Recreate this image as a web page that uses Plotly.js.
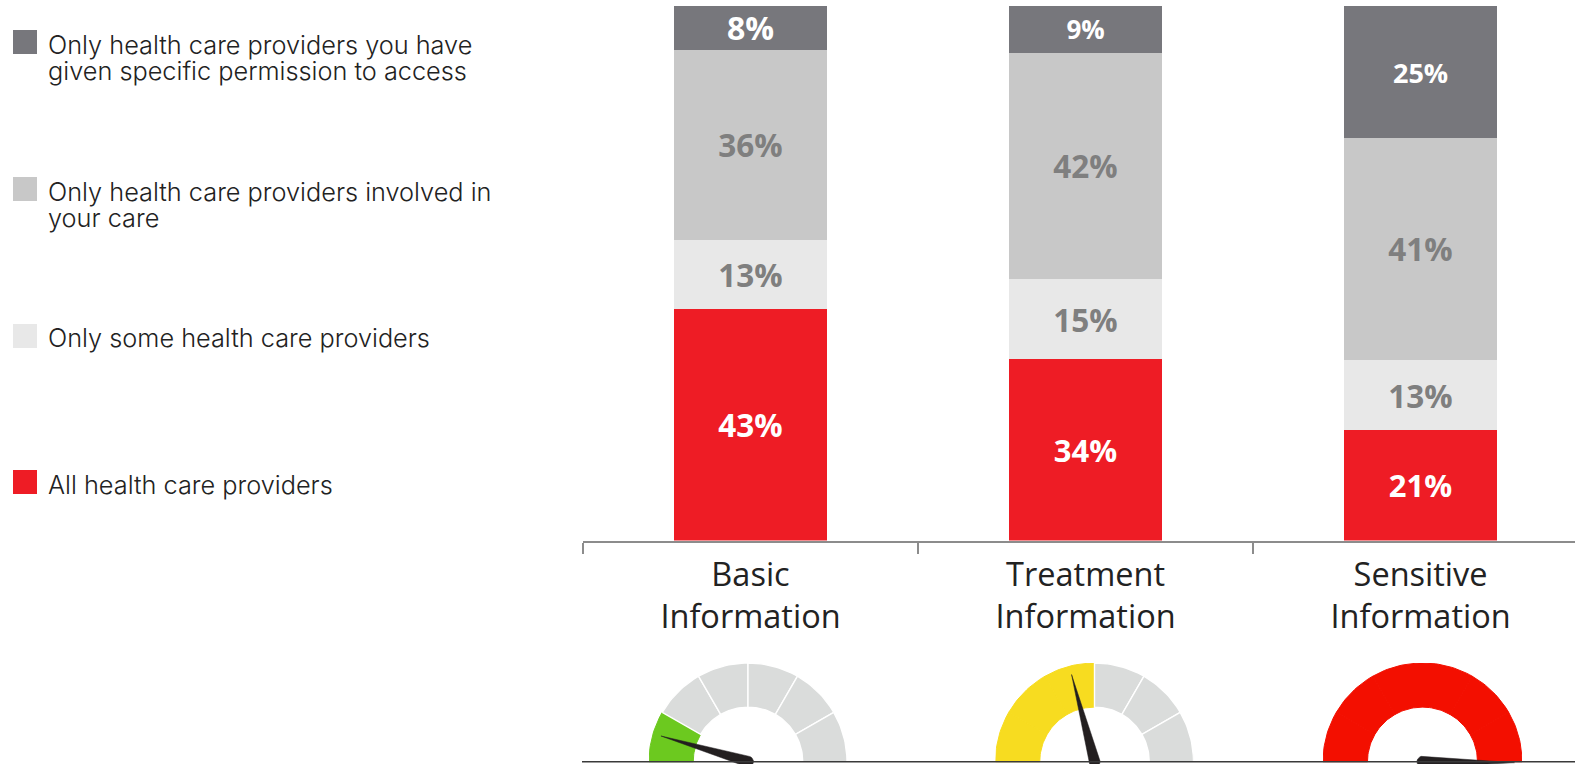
<!DOCTYPE html>
<html><head><meta charset="utf-8">
<script src="https://cdn.plot.ly/plotly-3.0.1.min.js"></script>
<style>html,body{margin:0;padding:0;background:#fff;overflow:hidden}</style>
</head><body><div id="chart" style="width:1575px;height:764px"></div>
<script>
// ---- data ----
const categories = ["Basic<br>Information", "Treatment<br>Information", "Sensitive<br>Information"];
const allProviders = [43.4, 33.9, 20.6];
const someProviders = [12.8, 15.0, 13.2];
const involvedProviders = [35.6, 42.4, 41.49];
const permissionProviders = [8.2, 8.7, 24.71];
const legendAll = ["All health care providers"];
const legendSome = ["Only some health care providers"];
const legendInvolved = ["Only health care providers involved in", "your care"];
const legendPermission = ["Only health care providers you have", "given specific permission to access"];
const gaugeFilledSegments = [1, 3, 6];
const needleDegrees = [16.5, 75.3, 180.6];
const needleLengths = [0.917, 0.913, 0.925];

// ---- styles / layout constants ----
const W = 1575, H = 764;
const cDark = "#77777c", cMid = "#c8c8c8", cLight = "#e8e8e8", cRed = "#ee1c25";
const labelGrey = "#7f7f7f";
const labelFont = "Open Sans";
const gaugeColors = ["#6cc91f", "#f7dc20", "#f30f00"];
const gaugeGrey = "#dadcdb";
const gaugeBoxes = [{cx:748, rx:99}, {cx:1094.5, rx:99}, {cx:1422.5, rx:99.5}];
const gaugeTop = 663, gaugeBase = 761.7, segCount = 6, innerRatio = 0.553;
const px = x => x / W, py = y => 1 - y / H;

function barTrace(name, vals, color, txtColor, sizes) {
  return {type:"bar", name, x:categories, y:vals, width:0.457,
    marker:{color, line:{width:0}},
    text:vals.map(v => Math.round(v) + "%"), textposition:"inside", insidetextanchor:"middle",
    constraintext:"none", textangle:0,
    textfont:{family:labelFont, size:sizes, color:txtColor, weight:700},
    hoverinfo:"skip", showlegend:false};
}
const traces = [
  barTrace(legendAll[0], allProviders, cRed, "#ffffff", [31.5,31,31]),
  barTrace(legendSome[0], someProviders, cLight, labelGrey, [31.5,31.5,31.5]),
  barTrace(legendInvolved.join(" "), involvedProviders, cMid, labelGrey, [31.5,31.5,31.5]),
  barTrace(legendPermission.join(" "), permissionProviders, cDark, "#ffffff", [32,26,27])
];

function polar(deg, r) { const a = deg * Math.PI / 180; return [-Math.cos(a) * r, Math.sin(a) * r]; }
const layoutAxes = {};
gaugeBoxes.forEach((g, i) => {
  const n = i + 2, xa = "x" + n, ya = "y" + n;
  layoutAxes["xaxis" + n] = {domain:[px(g.cx - g.rx), px(g.cx + g.rx)], range:[-1, 1], visible:false, fixedrange:true, anchor:ya};
  layoutAxes["yaxis" + n] = {domain:[0, py(gaugeTop)], range:[-(H - gaugeBase) / (gaugeBase - gaugeTop), 1], visible:false, fixedrange:true, anchor:xa};
  for (let s = 0; s < segCount; s++) {
    const a0 = s * 180 / segCount, a1 = (s + 1) * 180 / segCount, xs = [], ys = [];
    for (let k = 0; k <= 16; k++) { const p = polar(a0 + (a1 - a0) * k / 16, 1); xs.push(p[0]); ys.push(p[1]); }
    for (let k = 16; k >= 0; k--) { const p = polar(a0 + (a1 - a0) * k / 16, innerRatio); xs.push(p[0]); ys.push(p[1]); }
    xs.push(xs[0]); ys.push(ys[0]);
    const on = s < gaugeFilledSegments[i];
    traces.push({type:"scatter", mode:"lines", x:xs, y:ys, xaxis:xa, yaxis:ya, fill:"toself",
      fillcolor:on ? gaugeColors[i] : gaugeGrey,
      line:{color:on ? gaugeColors[i] : "#ffffff", width:on ? 1 : 1.4},
      hoverinfo:"skip", showlegend:false});
  }
});
// needles drawn after every wedge so they sit on top
gaugeBoxes.forEach((g, i) => {
  const n = i + 2, deg = needleDegrees[i], len = needleLengths[i];
  const tip = polar(deg, len), xs = [tip[0]], ys = [tip[1]];
  const pxW = 5.5 / g.rx, pxH = 5.5 / (gaugeBase - gaugeTop);
  for (let k = 0; k <= 12; k++) {
    const a = (180 - deg - 90 + 180 * k / 12 + 180) * Math.PI / 180;
    xs.push(Math.cos(a) * pxW);
    ys.push(Math.sin(a) * pxH);
  }
  xs.push(tip[0]); ys.push(tip[1]);
  traces.push({type:"scatter", mode:"lines", x:xs, y:ys, xaxis:"x" + n, yaxis:"y" + n, fill:"toself",
    fillcolor:"#231f20", line:{color:"#231f20", width:0.5}, hoverinfo:"skip", showlegend:false});
});

// legend built from the series names
const legendRows = [
  {lines:legendPermission, color:cDark, top:30, lineYs:[44, 70]},
  {lines:legendInvolved, color:cMid, top:177, lineYs:[191, 217]},
  {lines:legendSome, color:cLight, top:324, lineYs:[337.5]},
  {lines:legendAll, color:cRed, top:470, lineYs:[484.5]}
];
const shapes = [], annotations = [];
legendRows.forEach(r => {
  shapes.push({type:"rect", xref:"paper", yref:"paper", x0:px(13), x1:px(37), y0:py(r.top), y1:py(r.top + 24),
    fillcolor:r.color, line:{width:0}, layer:"above"});
  r.lines.forEach((t, i) => annotations.push({xref:"paper", yref:"paper", x:px(46), y:py(r.lineYs[i]),
    xanchor:"left", yanchor:"middle", showarrow:false, text:t,
    font:{family:"Inter", size:25.3, color:"#222222", weight:300}}));
});
shapes.push({type:"line", xref:"paper", yref:"paper", x0:px(582), x1:1, y0:py(gaugeBase), y1:py(gaugeBase),
  line:{color:"#3a3a3a", width:1.5}, layer:"above"});

const layout = Object.assign({
  width:W, height:H, margin:{l:0, r:0, t:0, b:0, pad:0}, paper_bgcolor:"#fff", plot_bgcolor:"rgba(0,0,0,0)",
  barmode:"stack", showlegend:false, shapes, annotations,
  xaxis:{domain:[px(583), 1], range:[-0.5, 2.461], type:"category", tickson:"boundaries", ticks:"outside",
    ticklen:11, tickwidth:2, tickcolor:"#8c8c8c", showline:true, linecolor:"#8c8c8c", linewidth:2,
    showgrid:false, zeroline:false, fixedrange:true, anchor:"y", ticklabelstandoff:4,
    tickfont:{family:labelFont, size:32.5, color:"#222222"}},
  yaxis:{domain:[py(540.5), py(6)], range:[0, 100], visible:false, fixedrange:true, anchor:"x"}
}, layoutAxes);

Plotly.newPlot("chart", traces, layout, {displayModeBar:false, staticPlot:true});
</script></body></html>
